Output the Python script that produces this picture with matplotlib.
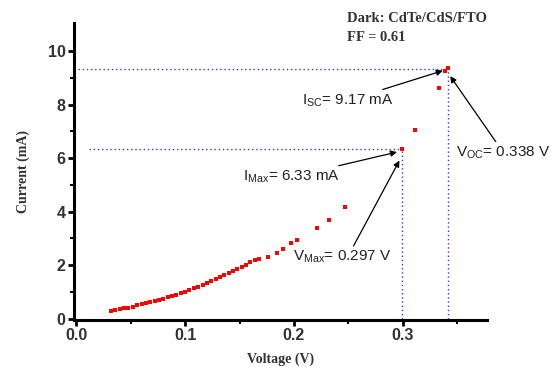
import matplotlib
matplotlib.use("Agg")
import matplotlib.pyplot as plt

# Data
voltage = [0.032, 0.036, 0.040, 0.044, 0.048, 0.052, 0.056, 0.060, 0.064, 0.068,
           0.072, 0.076, 0.080, 0.084, 0.088, 0.092, 0.096, 0.100, 0.104, 0.108,
           0.112, 0.116, 0.120, 0.124, 0.128, 0.132, 0.136, 0.140, 0.144, 0.148,
           0.152, 0.156, 0.160, 0.164, 0.168, 0.176, 0.184, 0.190, 0.197, 0.203,
           0.221, 0.232, 0.247, 0.299, 0.311, 0.333, 0.339, 0.341]
current = [0.28, 0.31, 0.34, 0.38, 0.41, 0.45, 0.49, 0.53, 0.57, 0.61,
           0.65, 0.69, 0.74, 0.79, 0.84, 0.89, 0.95, 1.01, 1.07, 1.13,
           1.19, 1.26, 1.33, 1.40, 1.47, 1.54, 1.62, 1.70, 1.78, 1.86,
           1.94, 2.02, 2.10, 2.18, 2.24, 2.32, 2.46, 2.61, 2.82, 2.92,
           3.38, 3.69, 4.16, 6.35, 7.05, 8.64, 9.25, 9.37]

v_max, i_max = 0.299, 6.35
v_oc, i_sc = 0.341, 9.35

xticks = [0.0, 0.1, 0.2, 0.3]
yticks = [0, 2, 4, 6, 8, 10]

fig = plt.figure(figsize=(5.54, 3.72), dpi=100)
ax = fig.add_axes([0.1336, 0.140, 0.745, 0.798])

ax.plot(voltage, current, 's', color='#ff0000', ms=3.4, mew=0, zorder=3)

dot = (0, (1, 2))
ax.plot([0.002, v_oc], [i_sc, i_sc], color='#3333ff', lw=1, ls=dot, zorder=2)
ax.plot([0.012, v_max], [i_max, i_max], color='#3333ff', lw=1, ls=dot, zorder=2)
ax.plot([v_oc, v_oc], [0, i_sc], color='#3333ff', lw=1, ls=dot, zorder=2)
ax.plot([v_max, v_max], [0, i_max], color='#3333ff', lw=1, ls=dot, zorder=2)

ax.set_xlim(-0.002, 0.377)
ax.set_ylim(-0.05, 11.05)
ax.set_xticks(xticks)
ax.set_yticks(yticks)
ax.set_xticklabels(['0.0', '0.1', '0.2', '0.3'])
ax.set_xticks([0.05, 0.15, 0.25, 0.35], minor=True)
ax.set_yticks([1, 3, 5, 7, 9], minor=True)

for s in ['top', 'right']:
    ax.spines[s].set_visible(False)
for s in ['left', 'bottom']:
    ax.spines[s].set_linewidth(2.2)
ax.tick_params(which='major', direction='out', length=4, width=2, labelsize=11.5, pad=2)
ax.tick_params(which='minor', direction='out', length=3, width=1.5)
for lab in ax.get_xticklabels() + ax.get_yticklabels():
    lab.set_fontfamily('Liberation Sans')
    lab.set_fontweight('bold')
    lab.set_color('#333333')

ax.set_xlabel('Voltage (V)', fontfamily='Liberation Serif', fontweight='bold', fontsize=10, labelpad=7, color='#333333')
ax.set_ylabel('Current (mA)', fontfamily='Liberation Serif', fontweight='bold', fontsize=10, labelpad=13, color='#333333')

fig.text(0.626, 0.950, 'Dark: CdTe/CdS/FTO', fontfamily='Liberation Serif', fontweight='bold', fontsize=10.5, color='#333333', va='center')
fig.text(0.626, 0.898, 'FF = 0.61', fontfamily='Liberation Serif', fontweight='bold', fontsize=10.5, color='#333333', va='center')

arrow = dict(arrowstyle='-|>', color='black', lw=0.9, mutation_scale=9, shrinkA=0, shrinkB=2)
tfont = dict(fontfamily='Liberation Sans', fontsize=11, color='#222222')

ax.annotate(r'I$_{\mathregular{SC}}$= 9.17 mA', xy=(v_oc - 0.002, i_sc - 0.05), xytext=(0.291, 8.15),
            ha='right', va='center', arrowprops=arrow, **tfont)
ax.annotate(r'V$_{\mathregular{OC}}$= 0.338 V', xy=(v_oc + 0.001, i_sc - 0.2), xytext=(0.349, 6.2),
            ha='left', va='center', arrowprops=arrow, **tfont)
ax.annotate(r'I$_{\mathregular{Max}}$= 6.33 mA', xy=(v_max - 0.002, i_max - 0.1), xytext=(0.242, 5.3),
            ha='right', va='center', arrowprops=arrow, **tfont)
ax.annotate(r'V$_{\mathregular{Max}}$= 0.297 V', xy=(v_max - 0.001, i_max - 0.35), xytext=(0.199, 2.3),
            ha='left', va='center', arrowprops=dict(arrow, relpos=(0.6, 1.0)), **tfont)

fig.savefig('out.png', dpi=100)
